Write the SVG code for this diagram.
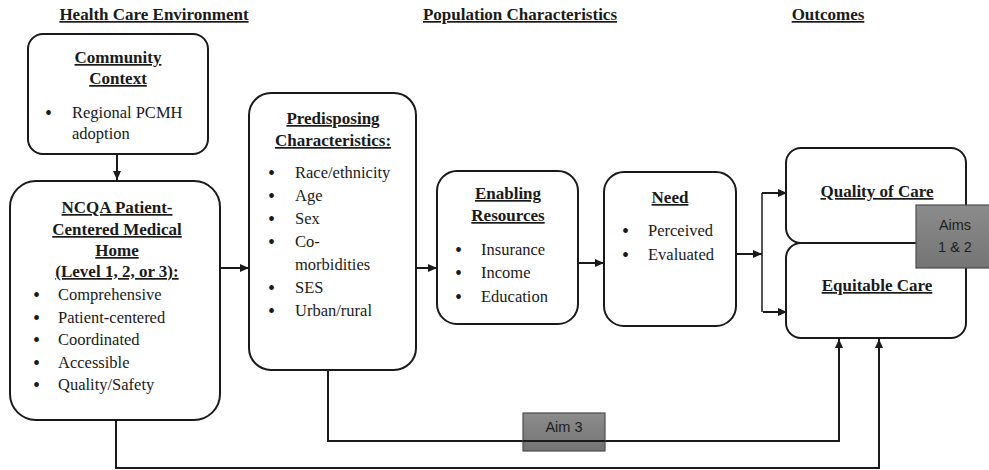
<svg xmlns="http://www.w3.org/2000/svg" width="989" height="470" viewBox="0 0 989 470">
<style>
  text { font-family: "Liberation Serif", "Times New Roman", serif; fill: #1a1a1a; }
  .hdr { font-size: 17px; font-weight: bold; text-decoration: underline; text-anchor: middle; }
  .ttl { font-size: 17px; font-weight: bold; text-decoration: underline; text-anchor: middle; }
  .itm { font-size: 16.5px; }
  .bul { font-size: 20px; }
  .box { fill: #ffffff; stroke: #1a1a1a; stroke-width: 2; }
  .con { fill: none; stroke: #1a1a1a; stroke-width: 2; }
  .aim { stroke: #4d4d4d; stroke-width: 1.2; }
  .aimt { font-family: "Liberation Sans", Arial, sans-serif; font-size: 14.5px; fill: #1e1e1e; text-anchor: middle; }
</style>
<defs>
  <marker id="arr" markerUnits="userSpaceOnUse" markerWidth="9" markerHeight="8" refX="9" refY="4" orient="auto">
    <path d="M0,0 L9,4 L0,8 z" fill="#1a1a1a"/>
  </marker>
  <linearGradient id="gry" x1="0" y1="0" x2="0" y2="1">
    <stop offset="0" stop-color="#8c8c8c"/>
    <stop offset="1" stop-color="#747474"/>
  </linearGradient>
</defs>
<rect width="989" height="470" fill="#ffffff"/>

<g id="headers">
  <text class="hdr" x="154" y="20">Health Care Environment</text>
  <text class="hdr" x="520" y="20">Population Characteristics</text>
  <text class="hdr" x="828" y="20">Outcomes</text>
</g>

<g id="connectors">
  <line class="con" x1="117" y1="154" x2="117" y2="180" marker-end="url(#arr)"/>
  <line class="con" x1="220" y1="268" x2="249" y2="268" marker-end="url(#arr)"/>
  <line class="con" x1="416" y1="268" x2="437" y2="268" marker-end="url(#arr)"/>
  <line class="con" x1="578" y1="263" x2="604" y2="263" marker-end="url(#arr)"/>
  <line class="con" x1="736" y1="254" x2="762" y2="254" marker-end="url(#arr)"/>
  <line class="con" x1="762" y1="193" x2="762" y2="312" style="stroke-width:1.5"/>
  <line class="con" x1="762" y1="193" x2="787" y2="193" marker-end="url(#arr)"/>
  <line class="con" x1="763" y1="312" x2="787" y2="312" marker-end="url(#arr)"/>
  <polyline class="con" points="328,370 328,441 839,441 839,339" marker-end="url(#arr)"/>
  <polyline class="con" points="116,420 116,468 879,468 879,339" marker-end="url(#arr)"/>
</g>

<g id="community-context">
  <rect class="box" x="28" y="34" width="180" height="120" rx="15"/>
  <text class="ttl" x="118" y="63">Community</text>
  <text class="ttl" x="118" y="84">Context</text>
  <text class="bul" x="45" y="120">•</text>
  <text class="itm" x="72" y="118">Regional PCMH</text>
  <text class="itm" x="72" y="139">adoption</text>
</g>

<g id="ncqa-pcmh">
  <rect class="box" x="10" y="181" width="210" height="239" rx="26"/>
  <text class="ttl" x="117" y="213">NCQA Patient-</text>
  <text class="ttl" x="117" y="235">Centered Medical</text>
  <text class="ttl" x="117" y="256">Home</text>
  <text class="ttl" x="117" y="277">(Level 1, 2, or 3):</text>
  <text class="bul" x="33" y="302">•</text><text class="itm" x="58" y="300">Comprehensive</text>
  <text class="bul" x="33" y="324.5">•</text><text class="itm" x="58" y="322.5">Patient-centered</text>
  <text class="bul" x="33" y="347">•</text><text class="itm" x="58" y="345">Coordinated</text>
  <text class="bul" x="33" y="369.5">•</text><text class="itm" x="58" y="367.5">Accessible</text>
  <text class="bul" x="33" y="392">•</text><text class="itm" x="58" y="390">Quality/Safety</text>
</g>

<g id="predisposing">
  <rect class="box" x="249" y="93" width="167" height="277" rx="22"/>
  <text class="ttl" x="333" y="124">Predisposing</text>
  <text class="ttl" x="333" y="146">Characteristics:</text>
  <text class="bul" x="268" y="180">•</text><text class="itm" x="295" y="178">Race/ethnicity</text>
  <text class="bul" x="268" y="203">•</text><text class="itm" x="295" y="201">Age</text>
  <text class="bul" x="268" y="226">•</text><text class="itm" x="295" y="224">Sex</text>
  <text class="bul" x="268" y="249">•</text><text class="itm" x="295" y="247">Co-</text>
  <text class="itm" x="295" y="270">morbidities</text>
  <text class="bul" x="268" y="295">•</text><text class="itm" x="295" y="293">SES</text>
  <text class="bul" x="268" y="318">•</text><text class="itm" x="295" y="316">Urban/rural</text>
</g>

<g id="enabling">
  <rect class="box" x="437" y="171" width="141" height="153" rx="20"/>
  <text class="ttl" x="508" y="199">Enabling</text>
  <text class="ttl" x="508" y="221">Resources</text>
  <text class="bul" x="455" y="257">•</text><text class="itm" x="481" y="255">Insurance</text>
  <text class="bul" x="455" y="280">•</text><text class="itm" x="481" y="278">Income</text>
  <text class="bul" x="455" y="304">•</text><text class="itm" x="481" y="302">Education</text>
</g>

<g id="need">
  <rect class="box" x="604" y="172" width="132" height="154" rx="20"/>
  <text class="ttl" x="670" y="203">Need</text>
  <text class="bul" x="622" y="238">•</text><text class="itm" x="648" y="236">Perceived</text>
  <text class="bul" x="622" y="262">•</text><text class="itm" x="648" y="260">Evaluated</text>
</g>

<g id="quality-of-care">
  <rect class="box" x="786" y="148" width="180" height="95" rx="15"/>
  <text class="ttl" x="877" y="197">Quality of Care</text>
</g>

<g id="equitable-care">
  <rect class="box" x="786" y="243" width="180" height="95" rx="15"/>
  <text class="ttl" x="877" y="291">Equitable Care</text>
</g>

<g id="aims-1-2">
  <rect class="aim" x="916" y="205" width="76" height="63" fill="url(#gry)"/>
  <text class="aimt" x="955" y="230">Aims</text>
  <text class="aimt" x="955" y="252">1 &amp; 2</text>
</g>

<g id="aim-3">
  <rect class="aim" x="523" y="413" width="82" height="38" fill="url(#gry)"/>
  <line x1="523" y1="441" x2="605" y2="441" stroke="#1a1a1a" stroke-width="2"/>
  <text class="aimt" x="564" y="432">Aim 3</text>
</g>
</svg>
